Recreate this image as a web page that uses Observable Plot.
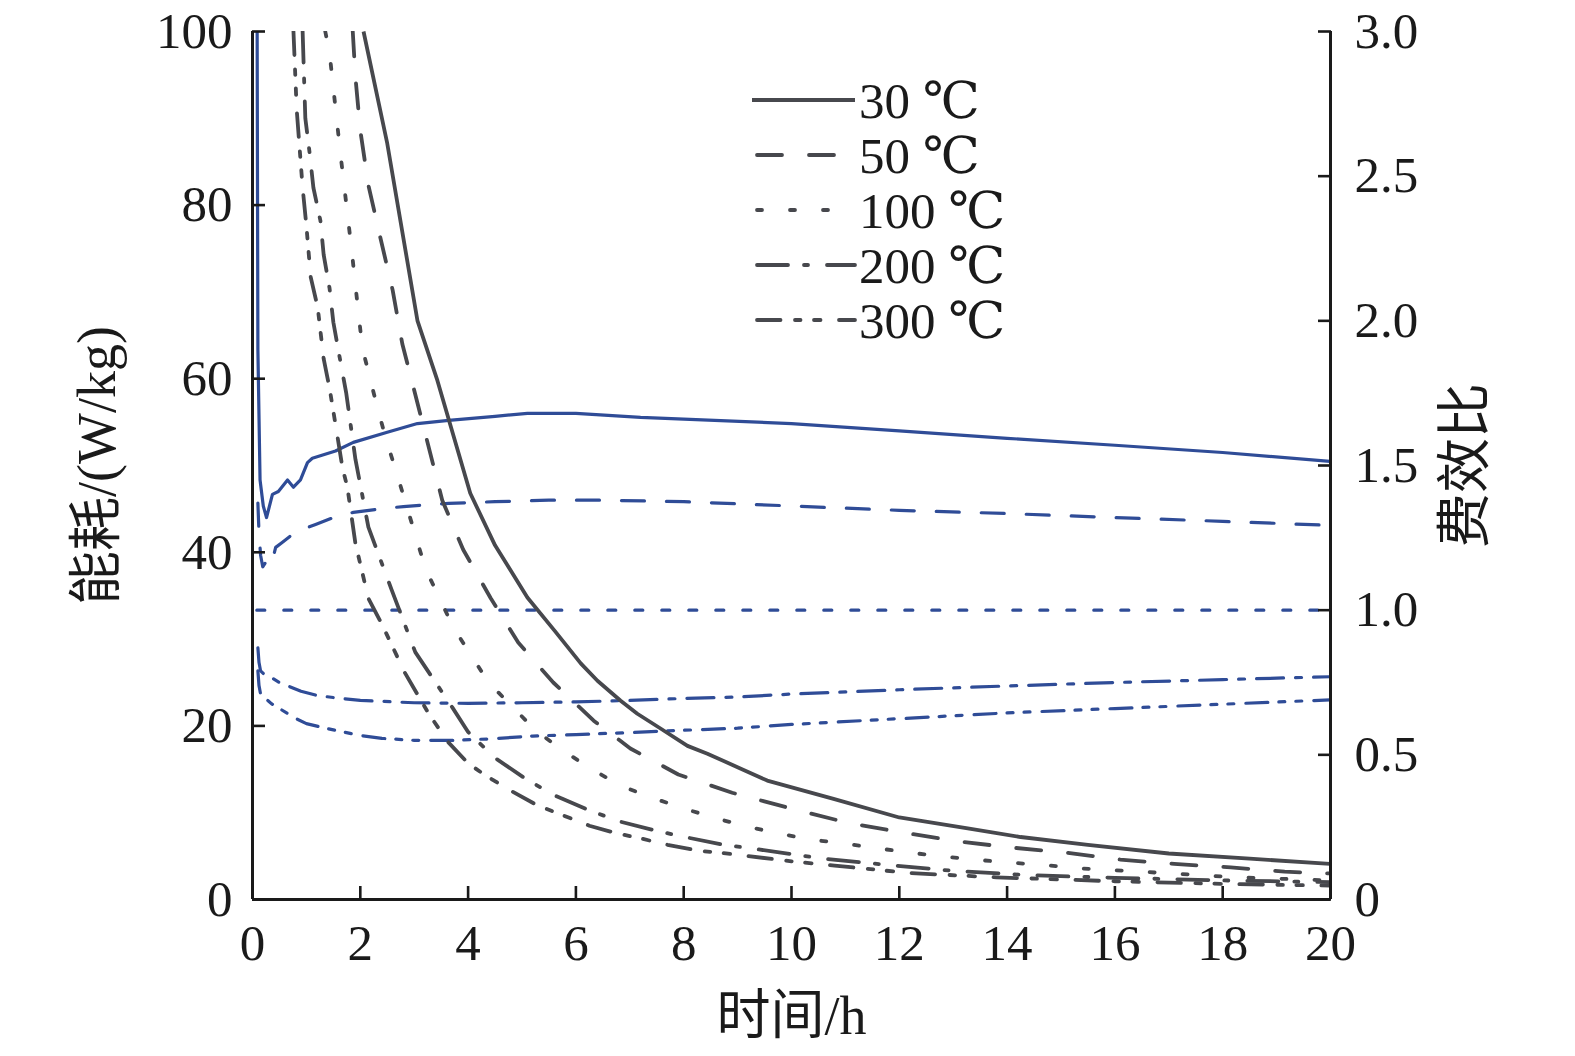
<!DOCTYPE html>
<html><head><meta charset="utf-8">
<script src="https://cdn.jsdelivr.net/npm/d3@7"></script>
<script src="https://cdn.jsdelivr.net/npm/@observablehq/plot@0.6"></script>
<style>
body{margin:0;background:#fff;}
#wrap{position:relative;width:1575px;height:1056px;overflow:hidden;}
#legend{position:absolute;left:0;top:0;pointer-events:none;}
</style></head><body><div id="wrap"></div>
<script>
// ---- data ----
const xTicks = [0,2,4,6,8,10,12,14,16,18,20];
const yLeftTicks = [0,20,40,60,80,100];
const yRightTicks = [0,0.5,1.0,1.5,2.0,2.5,3.0];
const seriesNames = ["30 ℃","50 ℃","100 ℃","200 ℃","300 ℃"];
const xLabel = "时间/h";
const yLeftLabel = "能耗/(W/kg)";
const yRightLabel = "费效比";

// energy consumption (W/kg), [time h, value]
const energy30 = [[2.06,100],[2.5,87.1],[3.06,66.7],[3.43,59.8],[4.04,46.8],[4.5,40.8],[5.1,34.8],[5.6,31],[6.09,27.2],[6.4,25.2],[6.83,22.9],[7.14,21.4],[7.57,19.7],[8.07,17.7],[8.44,16.8],[9.05,15.1],[9.55,13.7],[10.78,11.6],[12.0,9.45],[13.27,8.2],[14.25,7.2],[15.5,6.3],[17,5.3],[18.5,4.7],[20,4.1]];
const energy50 = [[1.86,100],[1.91,94.7],[2.0,88.6],[2.15,82.3],[2.37,76.3],[2.6,70.2],[2.78,64],[2.97,59.4],[3.52,46],[3.91,40.3],[4.42,34.7],[4.93,29.6],[5.58,25],[6.33,20.6],[7.01,17.4],[7.9,14.4],[8.9,12.3],[10.1,10.3],[11.07,8.8],[12.07,7.7],[13.1,6.7],[14.05,6.0],[15.1,5.4],[16.1,4.6],[17.1,4.1],[18.15,3.7],[19.15,3.2],[20,3.0]];
const energy100 = [[1.35,100],[1.43,97.5],[1.63,86],[1.84,74.8],[1.97,67.3],[2.04,63.5],[2.19,59.8],[2.34,56.1],[2.5,52.6],[2.69,48.8],[3.21,38.1],[3.73,31.3],[4.38,25],[5.25,19.5],[5.75,17.2],[6.27,15.1],[6.83,13.1],[7.4,11.75],[8.0,10.5],[8.57,9.4],[9.18,8.4],[9.76,7.6],[10.37,6.9],[10.98,6.45],[11.6,5.9],[12.2,5.4],[12.8,4.95],[13.4,4.6],[14.0,4.26],[14.65,4.0],[15.3,3.6],[16.5,3.2],[17.7,2.76],[18.3,2.55],[19.5,2.3],[20,2.2]];
const energy200 = [[0.93,100],[0.98,90],[1.06,86],[1.13,82],[1.26,78.2],[1.32,74.3],[1.43,70.4],[1.5,66.5],[1.61,62.7],[1.74,58.3],[1.91,50.7],[2.15,42.9],[2.58,35.7],[3.02,28.5],[3.71,22.1],[4.0,19.3],[4.5,16.3],[5.07,13.9],[5.6,12],[6.2,10.4],[6.8,9.0],[7.5,7.9],[8.1,7.1],[8.75,6.3],[9.35,5.8],[10.6,4.7],[11.75,4.0],[13,3.3],[14.4,2.8],[16,2.5],[18,2.2],[20,2.0]];
const energy300 = [[0.76,100],[0.82,91],[0.93,82],[1.0,77.6],[1.08,71.7],[1.21,68.2],[1.32,62.3],[1.43,58.9],[1.58,53.2],[1.67,49.7],[1.76,47.5],[1.91,41],[2.15,34.7],[2.41,31.6],[2.82,26.2],[3.27,21.4],[3.62,18.2],[4.0,15.7],[4.32,14.3],[4.8,12.5],[5.3,10.8],[5.68,9.9],[6.25,8.5],[6.77,7.6],[7.16,7.1],[7.7,6.3],[8.3,5.6],[8.66,5.4],[9.2,5.0],[10.0,4.4],[10.8,3.9],[12.2,3.05],[13.8,2.55],[16,2.1],[18,1.8],[20,1.6]];

// cost-effectiveness ratio, [time h, value]
const ratio30 = [[0.08,3.5],[0.1,1.9],[0.14,1.45],[0.2,1.36],[0.26,1.32],[0.37,1.40],[0.48,1.41],[0.65,1.45],[0.76,1.425],[0.89,1.45],[1.02,1.51],[1.11,1.525],[1.54,1.55],[1.87,1.58],[2.5,1.615],[3.06,1.645],[3.64,1.656],[4.5,1.67],[5.1,1.68],[6,1.68],[7.2,1.666],[8,1.66],[10,1.645],[12,1.62],[14,1.594],[16,1.57],[18,1.545],[20,1.514]];
const ratio50 = [[0.1,1.37],[0.12,1.27],[0.15,1.19],[0.19,1.15],[0.26,1.17],[0.33,1.195],[0.38,1.18],[0.43,1.217],[0.55,1.234],[0.8,1.27],[1.17,1.296],[1.5,1.32],[1.87,1.338],[2.37,1.35],[2.8,1.358],[3.64,1.369],[4.5,1.375],[5.5,1.38],[6.5,1.38],[8,1.375],[10,1.36],[12,1.345],[14,1.334],[16,1.32],[18,1.307],[20,1.293]];
const ratio100 = [[0.08,1.0],[20,1.0]];
const ratio200 = [[0.1,0.87],[0.12,0.82],[0.15,0.79],[0.25,0.772],[0.35,0.767],[0.5,0.75],[0.9,0.72],[1.2,0.705],[1.5,0.698],[2,0.688],[3,0.68],[4,0.678],[5,0.68],[6,0.683],[7,0.688],[8,0.695],[9,0.70],[10,0.71],[12,0.725],[14,0.738],[16,0.75],[18,0.76],[20,0.77]];
const ratio300 = [[0.1,0.79],[0.12,0.74],[0.15,0.71],[0.35,0.677],[0.65,0.643],[0.8,0.626],[1.0,0.608],[1.4,0.59],[2,0.567],[2.4,0.557],[3,0.55],[3.7,0.55],[4.4,0.555],[5.2,0.565],[6,0.57],[7,0.577],[8,0.585],[9,0.592],[10,0.605],[12,0.625],[14,0.645],[16,0.66],[18,0.675],[20,0.69]];

// ---- styles ----
const darkColor = "#47484d";
const blueColor = "#2f4c97";
const axisColor = "#1a1a1a";
const darkDash = [null, "25,27", "5,28", "31,16,4,19", "23.5,14.5,5.5,13.5,6.5,18.5"];
const blueDash = [null, "23,22", "8,19", "27,12,6,12", "22,11,6,11,6,12"];
const fontFam = '"Liberation Serif","Times New Roman","Noto Sans CJK SC",serif';
const legendFont = '"Liberation Serif","DejaVu Serif","Noto Sans CJK SC",serif';

const energyAll = [energy30, energy50, energy100, energy200, energy300];
const ratioAll = [ratio30, ratio50, ratio100, ratio200, ratio300];
const leftMax = 100, rightMax = 3.0;
const toLeft = r => r * leftMax / rightMax;

const marks = [];
ratioAll.forEach((arr, i) => {
  marks.push(Plot.line(arr.map(([t, r]) => ({t, r})), {
    x: "t", y: d => toLeft(d.r), stroke: blueColor, strokeWidth: 3.2,
    strokeDasharray: blueDash[i] || undefined, strokeLinejoin: "round", clip: true
  }));
});
energyAll.forEach((arr, i) => {
  marks.push(Plot.line(arr.map(([t, v]) => ({t, v})), {
    x: "t", y: "v", stroke: darkColor, strokeWidth: 3.8,
    strokeDasharray: darkDash[i] || undefined,
    strokeLinecap: darkDash[i] ? "round" : "butt", strokeLinejoin: "round", clip: true
  }));
});

// axes
marks.push(
  Plot.ruleX([0, 20], {stroke: axisColor, strokeWidth: 3}),
  Plot.ruleY([0], {stroke: axisColor, strokeWidth: 3}),
  Plot.axisX({ticks: xTicks, tickSize: -13, tickFormat: () => "", stroke: axisColor, strokeWidth: 2.6, label: null}),
  Plot.axisX({ticks: xTicks, tickSize: 0, tickPadding: 24, tickFormat: d => String(d), fill: axisColor, label: null}),
  Plot.axisY({ticks: yLeftTicks, anchor: "left", tickSize: -13, tickFormat: () => "", stroke: axisColor, strokeWidth: 2.6, label: null}),
  Plot.axisY({ticks: yLeftTicks, anchor: "left", tickSize: 0, tickPadding: 20, tickFormat: d => String(d), fill: axisColor, label: null}),
  Plot.axisY({ticks: yRightTicks.map(toLeft), anchor: "right", tickSize: -13, tickFormat: () => "", stroke: axisColor, strokeWidth: 2.6, label: null}),
  Plot.axisY({ticks: yRightTicks.map(toLeft), anchor: "right", tickSize: 0, tickPadding: 24,
    tickFormat: d => { const r = d * rightMax / leftMax; return Math.abs(r) < 1e-9 ? "0" : r.toFixed(1); }, fill: axisColor, label: null}),
  Plot.text([xLabel], {frameAnchor: "bottom", textAnchor: "middle", lineAnchor: "middle", dy: 117, fontSize: 54, fill: axisColor}),
  Plot.text([yLeftLabel], {frameAnchor: "left", textAnchor: "middle", lineAnchor: "middle", dx: -155, rotate: -90, fontSize: 54, fill: axisColor}),
  Plot.text([yRightLabel], {frameAnchor: "right", textAnchor: "middle", lineAnchor: "middle", dx: 135, rotate: -90, fontSize: 55, fill: axisColor})
);

const chart = Plot.plot({
  width: 1575, height: 1056,
  marginLeft: 252, marginRight: 245, marginTop: 31, marginBottom: 157,
  x: {domain: [0, 20], axis: null},
  y: {domain: [0, leftMax], axis: null},
  style: {fontFamily: fontFam, fontSize: "51px", background: "#fff", color: axisColor, overflow: "visible"},
  marks
});
const wrap = document.getElementById("wrap");
wrap.appendChild(chart);

// legend overlay
const lg = d3.select(wrap).append("svg").attr("id", "legend").attr("width", 1575).attr("height", 1056);
const legY0 = 100, legStep = 55;
seriesNames.forEach((name, i) => {
  const y = legY0 + i * legStep;
  lg.append("line").attr("x1", i === 0 ? 752 : 757).attr("x2", 855).attr("y1", y).attr("y2", y)
    .attr("stroke", darkColor).attr("stroke-width", 3.8)
    .attr("stroke-linecap", darkDash[i] ? "round" : "butt")
    .attr("stroke-dasharray", darkDash[i] || null);
  lg.append("text").attr("x", 859).attr("y", y).attr("dy", "0.35em")
    .attr("font-family", legendFont).attr("font-size", 51).attr("fill", axisColor)
    .text(name);
});
</script></body></html>
